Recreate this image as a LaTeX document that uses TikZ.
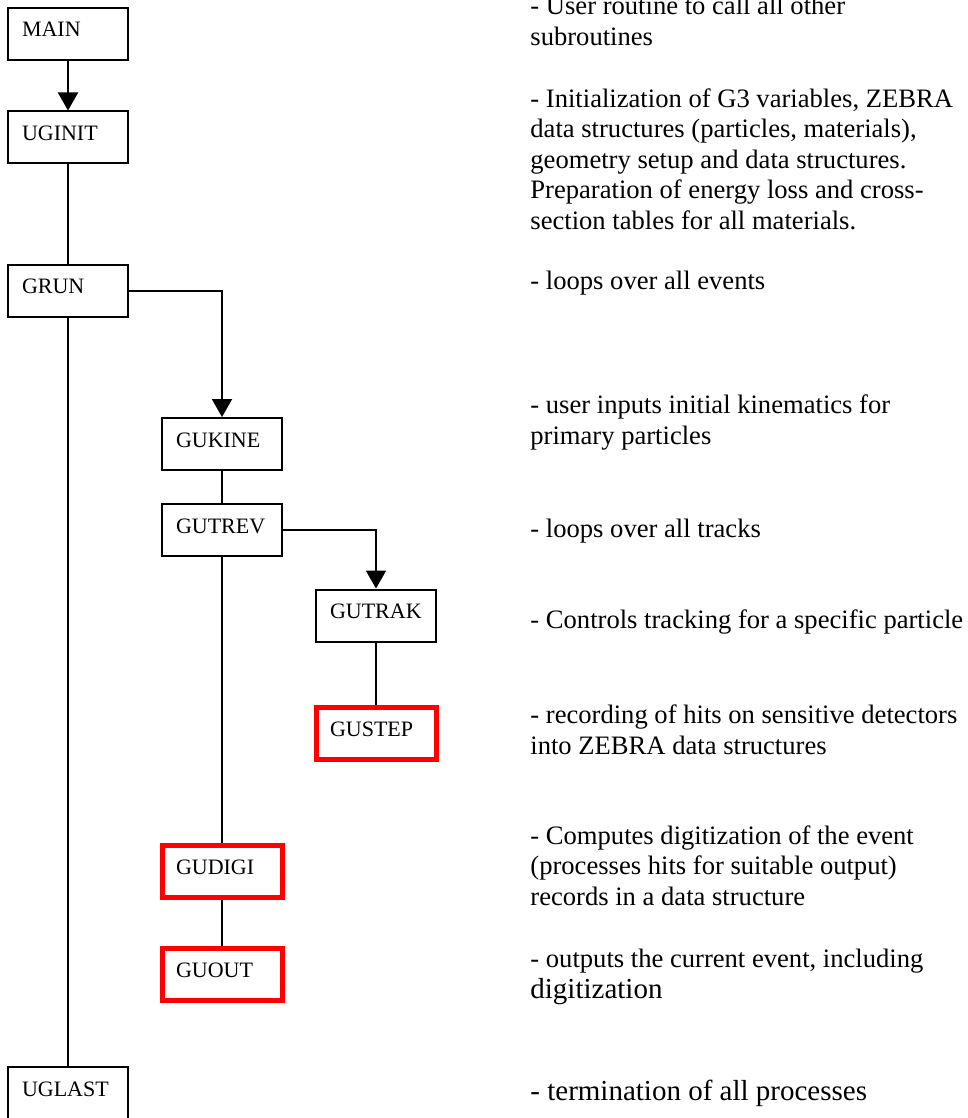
\documentclass[tikz,border=0pt]{standalone}
\usepackage{fontspec}
\setmainfont{Liberation Serif}
\usetikzlibrary{positioning,arrows.meta}

\begin{document}
\begin{tikzpicture}[x=0.5pt,y=-0.5pt,
box/.style={draw,rectangle,line width=1pt,minimum width=60pt,minimum height=26pt,text width=46pt,align=left,inner xsep=7pt,inner ysep=0pt,text height=7pt,text depth=4pt,font=\fontsize{11}{13}\selectfont},
hitbox/.style={box,draw=red,line width=2.5pt},
desc/.style={anchor=base west,inner sep=0pt,align=left,font=\fontsize{13.3}{15.25}\selectfont},
call/.style={line width=1pt,-{Triangle[length=9pt,width=10pt]}},
link/.style={line width=1pt}]
\clip (0,0) rectangle (968,1118);
\node (main) [box] at (68,34) {MAIN};
\node (uginit) [box] at (68,137.5) {UGINIT};
\node (grun) [box] at (68,290.5) {GRUN};
\node (gukine) [box] at (222,444) {GUKINE};
\node (gutrev) [box] at (222,530) {GUTREV};
\node (gutrak) [box] at (376,615.5) {GUTRAK};
\node (gustep) [hitbox] at (376,733.5) {GUSTEP};
\node (gudigi) [hitbox] at (222,871.5) {GUDIGI};
\node (guout) [hitbox] at (222,974) {GUOUT};
\node (uglast) [box] at (68,1093) {UGLAST};

\draw [call] (main) -- (uginit);
\draw [link] (uginit) -- (grun);
\draw [link] (grun) -- (uglast);
\draw [call] (grun.east) -| (gukine.north);
\draw [link] (gukine) -- (gutrev);
\draw [call] (gutrev.east) -| (gutrak.north);
\draw [link] (gutrak) -- (gustep);
\draw [link] (gutrev) -- (gudigi);
\draw [link] (gudigi) -- (guout);

\node (dmain) [desc] at (530,45.5) {- User routine to call all other\\subroutines};
\node (duginit) [desc] at (530,229) {- Initialization of G3 variables, ZEBRA\\data structures (particles, materials),\\geometry setup and data structures.\\Preparation of energy loss and cross-\\section tables for all materials.};
\node (dgrun) [desc] at (530,289) {- loops over all events};
\node (dgukine) [desc] at (530,444) {- user inputs initial kinematics for\\primary particles};
\node (dgutrev) [desc] at (530,537) {- loops over all tracks};
\node (dgutrak) [desc] at (530,628) {- Controls tracking for a specific particle};
\node (dgustep) [desc] at (530,754) {- recording of hits on sensitive detectors\\into ZEBRA data structures};
\node (dgudigi) [desc] at (530,905) {- Computes digitization of the event\\(processes hits for suitable output)\\records in a data structure};
\node (dguout) [desc] at (530,998) {- outputs the current event, including\\{\fontsize{14.5}{15.25}\selectfont digitization}};
\node (duglast) [desc,font=\fontsize{14.5}{17}\selectfont] at (530,1100) {- termination of all processes};
\end{tikzpicture}
\end{document}
